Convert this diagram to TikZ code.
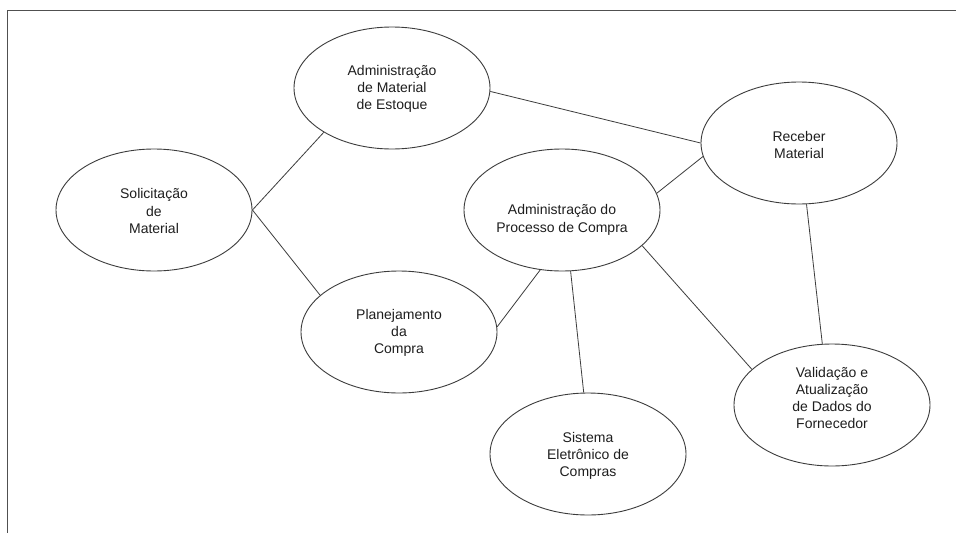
\documentclass[tikz,border=0pt]{standalone}
\usepackage{fontspec}
\setmainfont{Liberation Sans}
\usetikzlibrary{shapes.geometric}
\definecolor{linegray}{HTML}{3C3C3C}
\definecolor{framegray}{HTML}{505050}
\definecolor{textgray}{HTML}{1E1E1E}
\begin{document}
\begin{tikzpicture}[x=1pt,y=-1pt,
  bubble/.style={ellipse,draw=linegray,line width=0.9pt,minimum width=196pt,minimum height=122pt,inner sep=0pt},
  bubbletext/.style={align=center,font=\fontsize{14}{17.3}\selectfont,text=textgray,inner sep=0pt},
  link/.style={draw=linegray,line width=0.8pt},
  frameline/.style={draw=framegray,line width=1.4pt}]

% page area and open frame
\useasboundingbox (0,0) rectangle (956,533);
\fill[white] (0,0) rectangle (956,533);
\draw[frameline] (956,10.5) -- (7.5,10.5) -- (7.5,533);

% use cases
\node[bubble] (adm)  at (392,88)  {};
\node[bubble] (sol)  at (154,210) {};
\node[bubble] (rec)  at (799,143) {};
\node[bubble] (proc) at (562,210) {};
\node[bubble] (plan) at (399,332) {};
\node[bubble] (sis)  at (588,454) {};
\node[bubble] (val)  at (832,405) {};

% labels
\node[bubbletext] (adm-t)  at (392,89)  {Administração\\de Material\\de Estoque};
\node[bubbletext] (sol-t)  at (154,211) {Solicitação\\de\\Material};
\node[bubbletext] (rec-t)  at (799,145) {Receber\\Material};
\node[bubbletext] (proc-t) at (562,220) {Administração do\\Processo de Compra};
\node[bubbletext] (plan-t) at (399,333) {Planejamento\\da\\Compra};
\node[bubbletext] (sis-t)  at (588,456) {Sistema\\Eletrônico de\\Compras};
\node[bubbletext] (val-t)  at (832,398) {Validação e\\Atualização\\de Dados do\\Fornecedor};

% associations
\draw[link] (sol.east) -- (adm.213);
\draw[link] (sol.east) -- (plan.155);
\draw[link] (adm.-2) -- (rec.180);
\draw[link] (proc.10) -- (rec.188);
\draw[link] (proc.250) -- (plan.3);
\draw[link] (proc.278) -- (sis.94);
\draw[link] (proc.-24) -- (val.156);
\draw[link] (rec.277) -- (val.99);
\end{tikzpicture}
\end{document}
